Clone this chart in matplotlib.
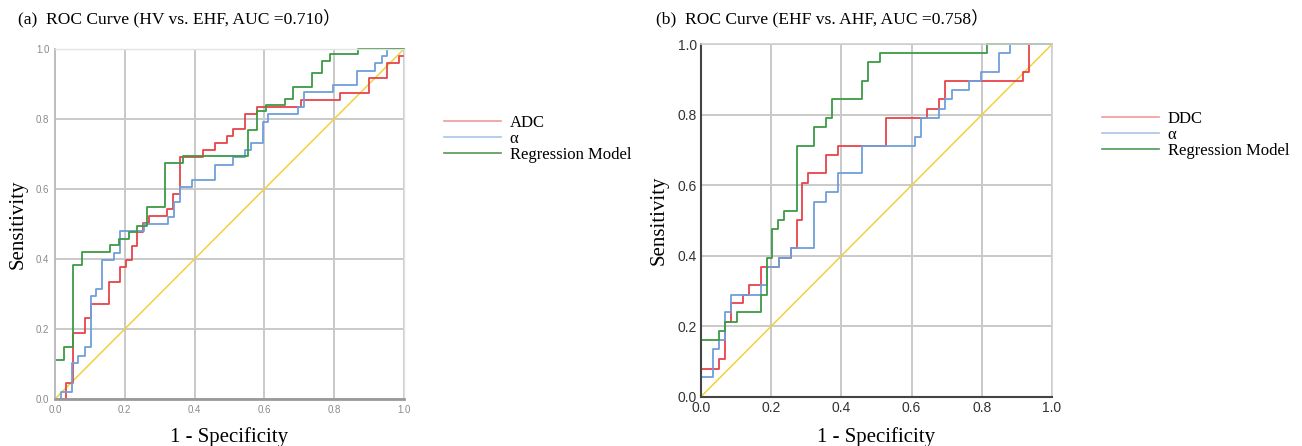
import matplotlib
matplotlib.use("Agg")
import matplotlib.pyplot as plt
from matplotlib.lines import Line2D

# ---------------- data ----------------
ticks = [0.0, 0.2, 0.4, 0.6, 0.8, 1.0]
tick_labels = ["0.0", "0.2", "0.4", "0.6", "0.8", "1.0"]
ref_line = [0.0, 1.0]

# Panel (a): HV vs EHF
a_adc_fpr = [0, 0.033, 0.051, 0.086, 0.102, 0.155, 0.186, 0.203, 0.220, 0.236, 0.253, 0.270,
             0.322, 0.339, 0.358, 0.425, 0.458, 0.494, 0.511, 0.544, 0.578, 0.705, 0.817,
             0.900, 0.952, 0.986, 1.0]
a_adc_tpr = [0, 0.045, 0.188, 0.230, 0.271, 0.335, 0.376, 0.397, 0.438, 0.478, 0.502, 0.523,
             0.543, 0.586, 0.690, 0.710, 0.730, 0.751, 0.771, 0.813, 0.834, 0.854, 0.875,
             0.916, 0.959, 0.981, 0.981]

a_alpha_fpr = [0, 0.017, 0.050, 0.050, 0.067, 0.086, 0.102, 0.119, 0.136, 0.169, 0.186, 0.255,
               0.325, 0.341, 0.358, 0.392, 0.458, 0.511, 0.544, 0.561, 0.595, 0.611, 0.695,
               0.713, 0.797, 0.866, 0.917, 0.936, 0.952, 1.0]
a_alpha_tpr = [0, 0.021, 0.042, 0.104, 0.124, 0.148, 0.294, 0.313, 0.397, 0.418, 0.480, 0.499,
               0.520, 0.562, 0.607, 0.626, 0.669, 0.690, 0.711, 0.730, 0.792, 0.813, 0.833,
               0.876, 0.897, 0.938, 0.959, 0.981, 1.0, 1.0]

a_reg_fpr = [0, 0, 0.026, 0.051, 0.078, 0.158, 0.183, 0.211, 0.236, 0.263, 0.315, 0.368,
             0.553, 0.578, 0.605, 0.659, 0.683, 0.737, 0.764, 0.788, 0.869, 1.0]
a_reg_tpr = [0, 0.111, 0.148, 0.384, 0.421, 0.439, 0.456, 0.476, 0.494, 0.548, 0.675, 0.694,
             0.769, 0.822, 0.839, 0.857, 0.892, 0.930, 0.966, 0.986, 1.0, 1.0]

# Panel (b): EHF vs AHF
b_ddc_fpr = [0, 0, 0.051, 0.068, 0.085, 0.121, 0.137, 0.171, 0.222, 0.256, 0.273, 0.289,
             0.305, 0.356, 0.391, 0.527, 0.644, 0.678, 0.695, 0.916, 0.934, 1.0]
b_ddc_tpr = [0, 0.080, 0.107, 0.213, 0.265, 0.290, 0.317, 0.369, 0.395, 0.423, 0.501, 0.605,
             0.634, 0.686, 0.712, 0.790, 0.816, 0.844, 0.896, 0.922, 1.0, 1.0]

b_alpha_fpr = [0, 0, 0.033, 0.051, 0.068, 0.085, 0.171, 0.187, 0.222, 0.256, 0.323, 0.356,
               0.391, 0.459, 0.609, 0.628, 0.678, 0.695, 0.714, 0.764, 0.799, 0.848, 0.881, 1.0]
b_alpha_tpr = [0, 0.055, 0.134, 0.161, 0.239, 0.290, 0.317, 0.369, 0.395, 0.421, 0.553, 0.580,
               0.634, 0.712, 0.738, 0.790, 0.816, 0.844, 0.870, 0.896, 0.922, 0.974, 1.0, 1.0]

b_reg_fpr = [0, 0, 0.051, 0.068, 0.102, 0.171, 0.187, 0.203, 0.220, 0.237, 0.273, 0.323,
             0.356, 0.373, 0.459, 0.476, 0.509, 0.815, 1.0]
b_reg_tpr = [0, 0.161, 0.186, 0.213, 0.239, 0.290, 0.395, 0.475, 0.501, 0.528, 0.712, 0.764,
             0.790, 0.844, 0.897, 0.949, 0.974, 1.0, 1.0]

labels_a = ["ADC", "α", "Regression Model"]
labels_b = ["DDC", "α", "Regression Model"]
title_a = "(a)  ROC Curve (HV vs. EHF, AUC =0.710）"
title_b = "(b)  ROC Curve (EHF vs. AHF, AUC =0.758）"

# ---------------- style ----------------
RED = "#e8434a"
BLUE = "#6f9fdc"
GREEN = "#3d9a45"
YELLOW = "#f0d23c"
LEG_RED = "#f29a9a"
LEG_BLUE = "#a9c4e8"
LEG_GREEN = "#4f9a55"
SERIF = ["Liberation Serif", "Noto Sans CJK SC"]

fig = plt.figure(figsize=(13.02, 4.46), dpi=100)
ax_a = fig.add_axes([0.0422, 0.1054, 0.2681, 0.7848])
ax_b = fig.add_axes([0.5384, 0.1105, 0.2696, 0.7902])


def setup(ax, panel):
    ax.set_xlim(0, 1)
    ax.set_ylim(0, 1)
    ax.set_xticks(ticks)
    ax.set_yticks(ticks)
    ax.set_xticklabels(tick_labels)
    ax.set_yticklabels(tick_labels)
    ax.grid(True, color="#c9c9c9", lw=1.4)
    ax.set_axisbelow(True)
    ax.tick_params(length=0)
    if panel == "a":
        ax.tick_params(labelsize=7, labelcolor="#8a8a8a", pad=4)
        for s in ["top", "right"]:
            ax.spines[s].set_color("#e2e2e2")
            ax.spines[s].set_linewidth(1.0)
        ax.spines["left"].set_color("#bdbdbd")
        ax.spines["left"].set_linewidth(1.4)
        ax.spines["bottom"].set_color("#9a9a9a")
        ax.spines["bottom"].set_linewidth(2.0)
    else:
        ax.tick_params(labelsize=10, labelcolor="#333333", pad=3)
        for s in ["top", "right"]:
            ax.spines[s].set_color("#cfcfcf")
            ax.spines[s].set_linewidth(1.2)
        for s in ["left", "bottom"]:
            ax.spines[s].set_color("#444444")
            ax.spines[s].set_linewidth(1.5)
    for lab in ax.get_xticklabels() + ax.get_yticklabels():
        lab.set_family(["Liberation Sans"])
    ax.set_xlabel("1 - Specificity", family=SERIF, fontsize=15, labelpad=9)
    ax.set_ylabel("Sensitivity", family=SERIF, fontsize=15, labelpad=6)


def curves(ax, data):
    ax.plot(ref_line, ref_line, color=YELLOW, lw=1.1, clip_on=False)
    for (fpr, tpr), col in zip(data, (RED, BLUE, GREEN)):
        ax.step(fpr, tpr, where="post", color=col, lw=1.3, clip_on=False)


setup(ax_a, "a")
curves(ax_a, [(a_adc_fpr, a_adc_tpr), (a_alpha_fpr, a_alpha_tpr), (a_reg_fpr, a_reg_tpr)])
setup(ax_b, "b")
curves(ax_b, [(b_ddc_fpr, b_ddc_tpr), (b_alpha_fpr, b_alpha_tpr), (b_reg_fpr, b_reg_tpr)])

fig.text(18 / 1302, 1 - 19 / 446, title_a, family=SERIF, fontsize=12.6,
         ha="left", va="center")
fig.text(656 / 1302, 1 - 19 / 446, title_b, family=SERIF, fontsize=12.6,
         ha="left", va="center")


def legend(labels, x_anchor, y_anchor):
    handles = [Line2D([], [], color=c, lw=1.2) for c in (LEG_RED, LEG_BLUE, LEG_GREEN)]
    fig.legend(handles, labels, loc="upper left",
               bbox_to_anchor=(x_anchor, y_anchor), frameon=False,
               prop={"family": "Liberation Serif", "size": 12},
               handlelength=3.4, handletextpad=0.55, labelspacing=-0.01,
               borderaxespad=0, borderpad=0)


legend(labels_a, 444 / 1302, 1 - 115 / 446)
legend(labels_b, 1102 / 1302, 1 - 111 / 446)

fig.savefig("out.png", dpi=100)
